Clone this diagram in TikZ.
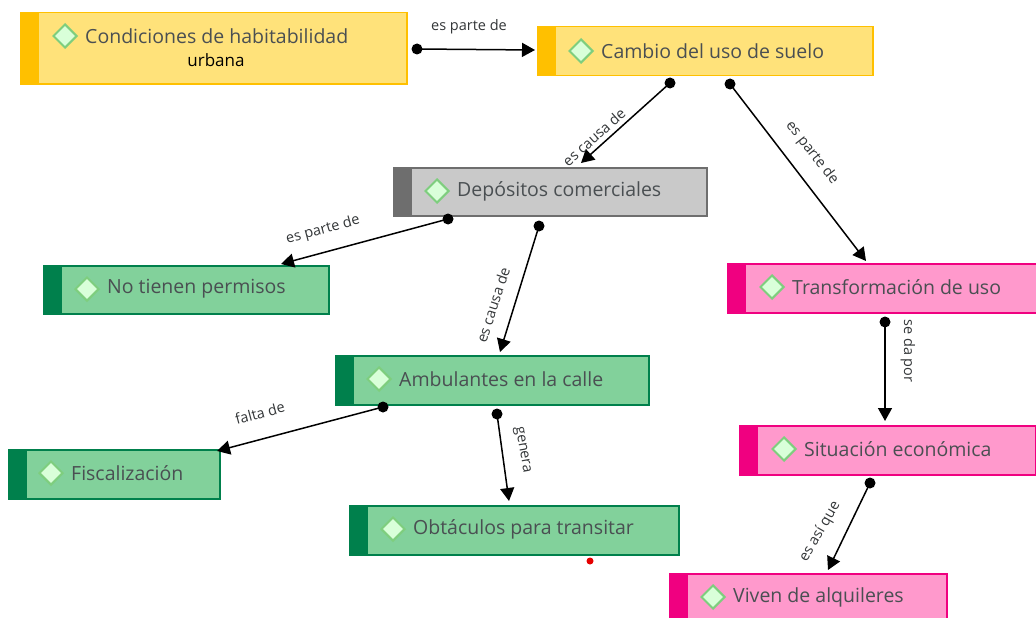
\documentclass[tikz,border=0pt]{standalone}
\usepackage{fontspec}
\setmainfont{Open Sans}
\usetikzlibrary{arrows.meta,shapes.geometric}
\definecolor{yfill}{HTML}{FFE27A}\definecolor{ybar}{HTML}{FFC000}
\definecolor{gfill}{HTML}{C9C9C9}\definecolor{gbar}{HTML}{6E6E6E}
\definecolor{nfill}{HTML}{82D19B}\definecolor{nbar}{HTML}{00804C}
\definecolor{pfill}{HTML}{FF99CC}\definecolor{pbar}{HTML}{F00080}
\definecolor{txt}{HTML}{4A4F52}
\tikzset{
  x=1pt,y=-1pt,
  concept/.style={draw=#1,line width=1.5pt,anchor=north west,inner sep=0pt},
  yellowbox/.style={concept=ybar,fill=yfill},
  greybox/.style={concept=gbar,fill=gfill},
  greenbox/.style={concept=nbar,fill=nfill},
  pinkbox/.style={concept=pbar,fill=pfill},
  sidebar/.style={fill=#1,draw=none,anchor=north west,inner sep=0pt,minimum width=19pt},
  mark diamond/.style={diamond,aspect=1,draw=green!45!gray!70,fill=white!85!green,line width=2pt,inner sep=0pt,minimum size=24pt},
  title/.style={text=txt,anchor=west,inner sep=0pt,font=\fontsize{19.5}{23}\selectfont},
  dot/.style={circle,fill=black,inner sep=0pt,minimum size=11pt},
  link/.style={draw=black,line width=1.5pt,-{Triangle[length=13pt,width=14pt]}},
  rel/.style={text=txt!70!black,inner sep=0pt,font=\fontsize{14.5}{17}\selectfont}
}
\begin{document}
\begin{tikzpicture}
\useasboundingbox (0,0) rectangle (1036,618);
\fill[white] (0,0) rectangle (1036,618);
% concepts
\node[yellowbox,minimum width=386pt,minimum height=71pt] (a) at (20,12) {};
\node[sidebar=ybar,minimum height=71pt] (abar) at (20,12) {};
\node[mark diamond] (am) at (65,36) {};
\node[title] (at) at (85,36) {Condiciones de habitabilidad};
\node[title,text=black,font=\fontsize{17}{20}\selectfont,anchor=center] (at2) at (216,60) {urbana};

\node[yellowbox,minimum width=335pt,minimum height=49pt] (b) at (537,26) {};
\node[sidebar=ybar,minimum height=49pt] (bbar) at (537,26) {};
\node[mark diamond] (bm) at (581,51) {};
\node[title] (bt) at (601,51) {Cambio del uso de suelo};

\node[greybox,minimum width=313pt,minimum height=48pt] (c) at (393,167) {};
\node[sidebar=gbar,minimum height=48pt] (cbar) at (393,167) {};
\node[mark diamond] (cm) at (437,191) {};
\node[title] (ct) at (457,191) {Depósitos comerciales};

\node[greenbox,minimum width=285pt,minimum height=48pt] (d) at (43,265) {};
\node[sidebar=nbar,minimum height=48pt] (dbar) at (43,265) {};
\node[mark diamond] (dm) at (87,289) {};
\node[title] (dt) at (107,289) {No tienen permisos};

\node[greenbox,minimum width=313pt,minimum height=49pt] (e) at (335,355) {};
\node[sidebar=nbar,minimum height=49pt] (ebar) at (335,355) {};
\node[mark diamond] (em) at (379,379) {};
\node[title] (et) at (399,379) {Ambulantes en la calle};

\node[greenbox,minimum width=211pt,minimum height=49pt] (f) at (8,449) {};
\node[sidebar=nbar,minimum height=49pt] (fbar) at (8,449) {};
\node[mark diamond] (fm) at (51,473) {};
\node[title] (ft) at (71,473) {Fiscalización};

\node[greenbox,minimum width=329pt,minimum height=49pt] (g) at (349,505) {};
\node[sidebar=nbar,minimum height=49pt] (gbar) at (349,505) {};
\node[mark diamond] (gm) at (393,529) {};
\node[title] (gt) at (413,529) {Obtáculos para transitar};

\node[pinkbox,minimum width=309pt,minimum height=49pt] (h) at (727,263) {};
\node[sidebar=pbar,minimum height=49pt] (hbar) at (727,263) {};
\node[mark diamond] (hm) at (772,287) {};
\node[title] (ht) at (792,287) {Transformación de uso};

\node[pinkbox,minimum width=296pt,minimum height=49pt] (i) at (739,425) {};
\node[sidebar=pbar,minimum height=49pt] (ibar) at (739,425) {};
\node[mark diamond] (im) at (784,449) {};
\node[title] (it) at (804,449) {Situación económica};

\node[pinkbox,minimum width=277pt,minimum height=50pt] (j) at (669,573) {};
\node[sidebar=pbar,minimum height=50pt] (jbar) at (669,573) {};
\node[mark diamond] (jm) at (713,597) {};
\node[title] (jt) at (733,597) {Viven de alquileres};

% connector ends
\node[dot] (d1) at (417,49) {};   \coordinate (e1) at (535,50);
\node[dot] (d2) at (670,83) {};   \coordinate (e2) at (581,163);
\node[dot] (d3) at (730,84) {};   \coordinate (e3) at (866,261);
\node[dot] (d4) at (448,219) {};  \coordinate (e4) at (281,264);
\node[dot] (d5) at (539,226) {};  \coordinate (e5) at (500,352);
\node[dot] (d6) at (383,407) {};  \coordinate (e6) at (217,451);
\node[dot] (d7) at (497,414) {};  \coordinate (e7) at (509,501);
\node[dot] (d8) at (885,322) {};  \coordinate (e8) at (885,421);
\node[dot] (d9) at (870,483) {};  \coordinate (e9) at (828,570);
\foreach \k in {1,...,9} \draw[link] (d\k.center) -- (e\k);

% labels
\node[rel] (l1) at (469,27) {es parte de};
\node[rel,rotate=42] (l2) at (594,137) {es causa de};
\node[rel,rotate=-52] (l3) at (812,153) {es parte de};
\node[rel,rotate=15] (l4) at (323,230) {es parte de};
\node[rel,rotate=72] (l5) at (493,305) {es causa de};
\node[rel,rotate=15] (l6) at (260,413) {falta de};
\node[rel,rotate=-80] (l7) at (522,450) {genera};
\node[rel,rotate=-90] (l8) at (908,351) {se da por};
\node[rel,rotate=60] (l9) at (820,532) {es así que};

\node[circle,fill=red!90!black,inner sep=0pt,minimum size=7pt] (rd) at (590,561) {};
\end{tikzpicture}
\end{document}
